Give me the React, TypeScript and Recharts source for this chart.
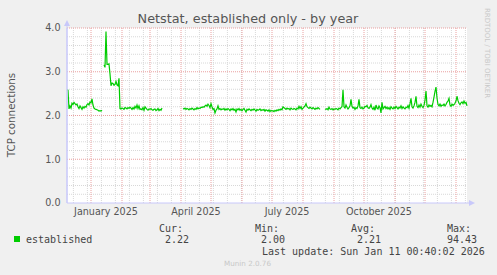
import * as React from 'react'
import { LineChart, Line, XAxis, YAxis, CartesianGrid, ReferenceLine } from 'recharts'

// day 0 = 8 Dec 2024, one point per day, null = no data
const segStarts = [0, 37, 116, 258]
const segA = [
  2.59, 2.58, 2.15, 2.22, 2.17, 2.28, 2.25, 2.30, 2.27, 2.24,
  2.26, 2.20, 2.16, 2.22, 2.18, 2.14, 2.20, 2.17, 2.21, 2.19,
  2.25, 2.27, 2.24, 2.31, 2.29, 2.38, 2.24, 2.17, 2.15, 2.14,
  2.13, 2.12, 2.10, 2.11, 2.10, 2.12,
]
const segB = [
  3.16, 3.10, 3.92,
  3.17, 3.17, 3.18, 2.95, 2.68, 2.74, 2.73, 2.69, 2.71, 2.78,
  2.70, 2.68, 2.85, 2.16, 2.15, 2.17, 2.16, 2.14, 2.18, 2.17,
  2.15, 2.18, 2.16, 2.19, 2.17, 2.14, 2.18, 2.15, 2.21, 2.17,
  2.24, 2.16, 2.22, 2.14, 2.15, 2.13, 2.18, 2.12, 2.20, 2.17,
  2.14, 2.12, 2.15, 2.14, 2.16, 2.13, 2.12, 2.14, 2.15, 2.11,
  2.13, 2.16, 2.11, 2.14, 2.12, 2.17,
]
const segC = [
  2.16, 2.15, 2.17, 2.14, 2.16, 2.15, 2.13, 2.16, 2.14, 2.17,
  2.15, 2.13, 2.16, 2.14, 2.18, 2.15, 2.17, 2.16, 2.19, 2.18,
  2.20, 2.19, 2.22, 2.24, 2.21, 2.26, 2.23, 2.18, 2.27, 2.20,
  2.14, 2.16, 2.06, 2.12, 2.15, 2.22, 2.14, 2.16, 2.13, 2.15,
  2.14, 2.16, 2.12, 2.15, 2.13, 2.16, 2.14, 2.11, 2.15, 2.13,
  2.16, 2.12, 2.14, 2.08, 2.15, 2.13, 2.16, 2.12, 2.14, 2.11,
  2.14, 2.16, 2.12, 2.08, 2.14, 2.12, 2.15, 2.13, 2.11, 2.14,
  2.12, 2.15, 2.13, 2.10, 2.14, 2.12, 2.13, 2.15, 2.11, 2.13,
  2.12, 2.14, 2.10, 2.13, 2.12, 2.10, 2.13, 2.09, 2.12, 2.10,
  2.11, 2.09, 2.12, 2.10, 2.13, 2.11, 2.14, 2.12, 2.15, 2.13,
  2.20, 2.18, 2.16, 2.14, 2.17, 2.15, 2.16, 2.13, 2.17, 2.15,
  2.14, 2.16, 2.15, 2.13, 2.17, 2.15, 2.21, 2.16, 2.20, 2.14,
  2.17, 2.19, 2.22, 2.27, 2.20, 2.18, 2.16, 2.19, 2.17, 2.15,
  2.18, 2.16, 2.14, 2.17, 2.15, 2.18, 2.16, 2.14,
]
const segD = [
  2.15, 2.14, 2.16, 2.13, 2.19, 2.15, 2.14, 2.16, 2.13, 2.15,
  2.14, 2.16, 2.15, 2.13, 2.17, 2.15, 2.18, 2.20,
  2.59,
  2.20, 2.17, 2.24, 2.19, 2.15, 2.18, 2.22, 2.37, 2.21, 2.17,
  2.19, 2.14, 2.18, 2.16, 2.22, 2.37, 2.18, 2.16, 2.19, 2.15,
  2.17, 2.21, 2.20, 2.23, 2.18, 2.16, 2.19, 2.25, 2.17, 2.14,
  2.19, 2.12, 2.24, 2.17, 2.15, 2.22, 2.18, 2.06, 2.30, 2.15,
  2.18, 2.21, 2.16, 2.19, 2.15, 2.18, 2.14, 2.20, 2.17, 2.15,
  2.19, 2.16, 2.21, 2.18, 2.15, 2.19, 2.17, 2.22, 2.16, 2.20,
  2.17, 2.15, 2.19, 2.18, 2.23, 2.17, 2.27, 2.39, 2.20, 2.17,
  2.22, 2.30, 2.44, 2.21, 2.18, 2.24, 2.19, 2.26, 2.21, 2.18,
  2.23, 2.35, 2.56, 2.22, 2.19, 2.24, 2.21, 2.23, 2.20, 2.30,
  2.42, 2.55, 2.65, 2.40, 2.25, 2.22, 2.26, 2.21, 2.24, 2.23,
  2.26, 2.22, 2.25, 2.30, 2.33, 2.39, 2.24, 2.21, 2.26, 2.23,
  2.25, 2.28, 2.33, 2.44, 2.34, 2.28, 2.25, 2.29, 2.31, 2.27,
  2.33, 2.28, 2.30, 2.22,
]
const segments = [segA, segB, segC, segD]
const totalDays = 400

// grid / labels
const monthStartDays = [24, 55, 83, 114, 144, 175, 205, 236, 267, 297, 328, 358, 389]
const minorDays = Array.from({ length: 29 }, (_, k) => 6.4 + 14 * k)
const labelDays = [39, 129, 220, 312]
const labelNames = ['January 2025', 'April 2025', 'July 2025', 'October 2025']
const yTicks = [0, 1, 2, 3, 4]
const yMinor = [0.2, 0.4, 0.6, 0.8, 1.2, 1.4, 1.6, 1.8, 2.2, 2.4, 2.6, 2.8, 3.2, 3.4, 3.6, 3.8]

const statLabels = ['Cur:', 'Min:', 'Avg:', 'Max:']
const statValues = ['2.22', '2.00', '2.21', '94.43']

const rows: { day: number; value: number | null }[] = []
for (let d = 0; d <= totalDays; d++) {
  let v: number | null = null
  segments.forEach((seg, i) => {
    const k = d - segStarts[i]
    if (k >= 0 && k < seg.length) v = seg[k]
  })
  rows.push({ day: d, value: v })
}

const AXIS = '#c8c8fa'
const TEXT = '#555'
const mono = '"DejaVu Sans Mono", monospace'

export default function App() {
  const statX = [159, 255, 351, 447]
  const valX = [165, 261, 357, 447]
  return (
    <div style={{ position: 'absolute', left: 0, top: 0, width: 497, height: 275, background: '#f0f0f0', fontFamily: '"DejaVu Sans", sans-serif' }}>
      <LineChart width={497} height={275} data={rows} margin={{ top: 28, right: 30, bottom: 42, left: 7 }}>
        <CartesianGrid horizontal={false} vertical={false} fill="#fff" />
        {yMinor.map(v => (
          <ReferenceLine key={'ym' + v} y={v} stroke="#d8d8d8" strokeDasharray="1 1" />
        ))}
        {minorDays.map(d => (
          <ReferenceLine key={'xm' + d} x={d} stroke="#d8d8d8" strokeDasharray="1 1" />
        ))}
        {yTicks.slice(1).map(v => (
          <ReferenceLine key={'yM' + v} y={v} stroke="#eaa0a0" strokeDasharray="1 1" />
        ))}
        {monthStartDays.map(d => (
          <ReferenceLine key={'xM' + d} x={d} stroke="#eaa0a0" strokeDasharray="1 1" />
        ))}
        <XAxis
          dataKey="day"
          type="number"
          domain={[0, totalDays]}
          ticks={labelDays}
          tickFormatter={(v: number) => labelNames[labelDays.indexOf(v)] ?? ''}
          tickLine={false}
          tickSize={0}
          tickMargin={5}
          axisLine={{ stroke: AXIS }}
          tick={{ fill: TEXT, fontSize: 9.6, fontFamily: '"DejaVu Sans"' }}
          interval={0}
          height={30}
        />
        <YAxis
          type="number"
          domain={[0, 4]}
          ticks={yTicks}
          tickFormatter={(v: number) => v.toFixed(1)}
          tickLine={false}
          tickSize={0}
          tickMargin={6.5}
          axisLine={{ stroke: AXIS }}
          tick={{ fill: TEXT, fontSize: 9.6, fontFamily: '"DejaVu Sans"' }}
          width={60}
        />
        <Line
          dataKey="value"
          stroke="#00cc00"
          strokeWidth={1.2}
          dot={false}
          connectNulls={false}
          isAnimationActive={false}
        />
      </LineChart>
      <svg width={497} height={275} style={{ position: 'absolute', left: 0, top: 0, pointerEvents: 'none' }}>
        <line x1={67} y1={203} x2={67} y2={24} stroke={AXIS} />
        <polygon points="64,26 70,26 67,20" fill={AXIS} />
        <line x1={467} y1={203} x2={470} y2={203} stroke={AXIS} />
        <polygon points="469,200 469,206 475,203" fill={AXIS} />
        <text x={248} y={23} textAnchor="middle" fontSize={12.8} fill={TEXT}>
          Netstat, established only - by year
        </text>
        <text x={15} y={115} textAnchor="middle" fontSize={10.3} fill={TEXT} transform="rotate(-90 15 115)">
          TCP connections
        </text>
        <text x={485} y={53} textAnchor="middle" fontSize={7} fill="#c8c8c8" transform="rotate(90 485 53)">
          RRDTOOL / TOBI OETIKER
        </text>
        <rect x={14} y={236} width={6} height={6} fill="#00cc00" />
        <text x={26} y={243} fontSize={10} fontFamily={mono} fill="#444">established</text>
        {statLabels.map((s, i) => (
          <text key={s} x={statX[i]} y={232} fontSize={10} fontFamily={mono} fill="#444">{s}</text>
        ))}
        {statValues.map((s, i) => (
          <text key={'v' + i} x={valX[i]} y={243} fontSize={10} fontFamily={mono} fill="#444">{s}</text>
        ))}
        <text x={262} y={255} fontSize={10} fontFamily={mono} fill="#444">
          Last update: Sun Jan 11 00:40:02 2026
        </text>
        <text x={247.5} y={266} textAnchor="middle" fontSize={7.2} fill="#c8c8c8">Munin 2.0.76</text>
      </svg>
    </div>
  )
}
